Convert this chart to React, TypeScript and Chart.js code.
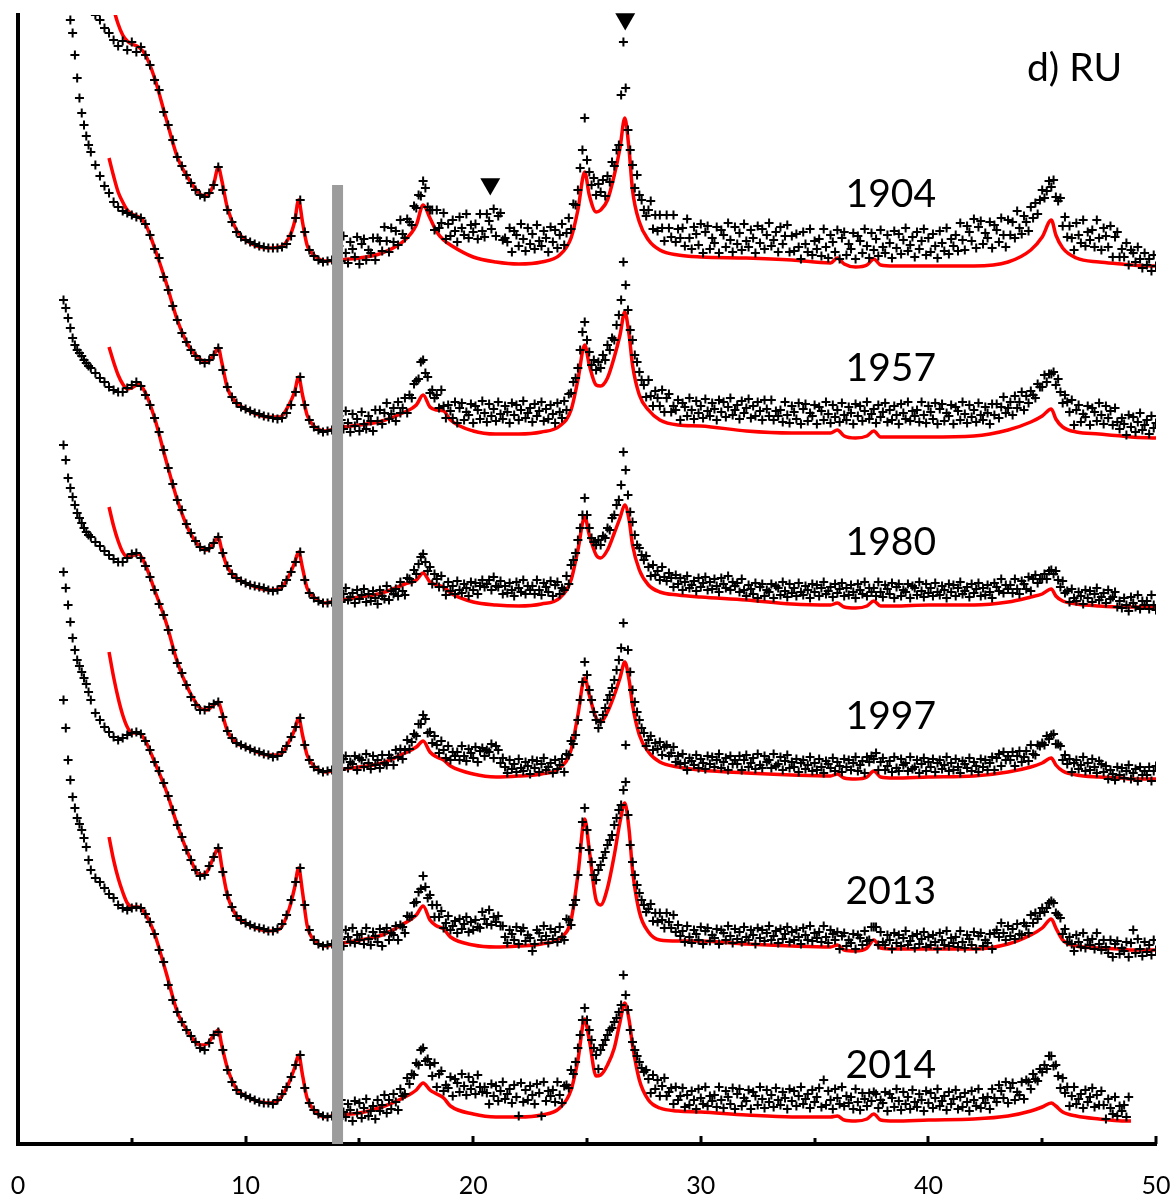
import React, { useEffect, useRef } from 'react';
import { Chart, registerables } from 'chart.js';

Chart.register(...registerables);

// ---------- measured patterns: main 2-theta grid ----------
const BLACK_X = [
  2, 2.2, 2.4, 2.6, 2.8, 3, 3.2, 3.4, 3.6, 3.8,
  4, 4.2, 4.4, 4.6, 4.8, 5, 5.2, 5.4, 5.6, 5.8,
  6, 6.2, 6.4, 6.6, 6.8, 7, 7.2, 7.4, 7.6, 7.8,
  8, 8.2, 8.4, 8.6, 8.8, 9, 9.2, 9.4, 9.6, 9.8,
  10, 10.2, 10.4, 10.6, 10.8, 11, 11.2, 11.4, 11.6, 11.8,
  12, 12.2, 12.4, 12.6, 12.8, 13, 13.2, 13.4, 13.6, 13.8,
  14,
  14.2, 14.4, 14.6, 14.8, 15, 15.2, 15.4, 15.6, 15.8, 16,
  16.2, 16.4, 16.6, 16.8, 17, 17.2, 17.4, 17.6, 17.8, 18,
  18.2, 18.4, 18.6, 18.8, 19, 19.2, 19.4, 19.6, 19.8, 20,
  20.2, 20.4, 20.6, 20.8, 21, 21.2, 21.4, 21.6, 21.8, 22,
  22.2, 22.4, 22.6, 22.8, 23, 23.2, 23.4, 23.6, 23.8, 24,
  24.2, 24.4,
  24.5, 24.6, 24.7, 24.8, 24.9, 25, 25.1, 25.2, 25.3, 25.4,
  25.5, 25.6, 25.7, 25.8, 25.9, 26, 26.1, 26.2, 26.3, 26.4,
  26.5, 26.6, 26.7, 26.8, 26.9, 27, 27.1, 27.2, 27.3, 27.4,
  27.5,
  27.6, 27.8, 28, 28.2, 28.4, 28.6, 28.8, 29, 29.2, 29.4,
  29.6, 29.8, 30, 30.2, 30.4, 30.6, 30.8, 31, 31.2, 31.4,
  31.6, 31.8, 32, 32.2, 32.4, 32.6, 32.8, 33, 33.2, 33.4,
  33.6, 33.8, 34, 34.2, 34.4, 34.6, 34.8, 35, 35.2, 35.4,
  35.6, 35.8, 36, 36.2, 36.4, 36.6, 36.8, 37, 37.2, 37.4,
  37.6, 37.8, 38, 38.2, 38.4, 38.6, 38.8, 39, 39.2, 39.4,
  39.6, 39.8, 40, 40.2, 40.4, 40.6, 40.8, 41, 41.2, 41.4,
  41.6, 41.8, 42, 42.2, 42.4, 42.6, 42.8, 43, 43.2, 43.4,
  43.6, 43.8, 44, 44.2, 44.4, 44.6, 44.8, 45, 45.2, 45.4,
  45.6, 45.8, 46, 46.2, 46.4, 46.6, 46.8, 47, 47.2, 47.4,
  47.6, 47.8, 48, 48.2, 48.4, 48.6, 48.8, 49, 49.2, 49.4,
  49.6, 49.8, 50,
];

// secondary (interleaved) 2-theta grid
const BLACK_X2 = [
  2.1, 2.3, 2.5, 2.7, 2.9, 3.1,
  14.1, 14.3, 14.5, 14.7, 14.9, 15.1, 15.3, 15.5, 15.7, 15.9,
  16.1, 16.3, 16.5, 16.7, 16.9, 17.1, 17.3, 17.5, 17.7, 17.9,
  18.1, 18.3, 18.5, 18.7, 18.9, 19.1, 19.3, 19.5, 19.7, 19.9,
  20.1, 20.3, 20.5, 20.7, 20.9, 21.1, 21.3, 21.5, 21.7, 21.9,
  22.1, 22.3, 22.5, 22.7, 22.9, 23.1, 23.3, 23.5, 23.7, 23.9,
  24.1, 24.3,
  27.7, 27.9, 28.1, 28.3, 28.5, 28.7, 28.9, 29.1, 29.3, 29.5,
  29.7, 29.9, 30.1, 30.3, 30.5, 30.7, 30.9, 31.1, 31.3, 31.5,
  31.7, 31.9, 32.1, 32.3, 32.5, 32.7, 32.9, 33.1, 33.3, 33.5,
  33.7, 33.9, 34.1, 34.3, 34.5, 34.7, 34.9, 35.1, 35.3, 35.5,
  35.7, 35.9, 36.1, 36.3, 36.5, 36.7, 36.9, 37.1, 37.3, 37.5,
  37.7, 37.9, 38.1, 38.3, 38.5, 38.7, 38.9, 39.1, 39.3, 39.5,
  39.7, 39.9, 40.1, 40.3, 40.5, 40.7, 40.9, 41.1, 41.3, 41.5,
  41.7, 41.9, 42.1, 42.3, 42.5, 42.7, 42.9, 43.1, 43.3, 43.5,
  43.7, 43.9, 44.1, 44.3, 44.5, 44.7, 44.9, 45.1, 45.3, 45.5,
  45.7, 45.9, 46.1, 46.3, 46.5, 46.7, 46.9, 47.1, 47.3, 47.5,
  47.7, 47.9, 48.1, 48.3, 48.5, 48.7, 48.9, 49.1, 49.3, 49.5,
  49.7, 49.9,
];

// measured intensities (offset-stacked) on BLACK_X
const BLACK_1904 = [
  null, null, null, null, null, null, null,
  1129, 1124, 1116, 1111, 1104, 1098, 1103, 1094, 1102, 1092,
  1097, 1089, 1079, 1064, 1054, 1032, 1019, 1004, 987, 978,
  969, 961, 954, 949, 947, 951, 959, 977, 954, 934,
  922, 912, 907, 904, 902, 900, 898, 897, 896, 896,
  896, 897, 900, 908, 926, 944, 912, 894, 888, 884,
  882, 883, 884, 886,
  883, 891, 902, 887, 880, 905, 894, 906, 906, 893,
  903, 916, 913, 924, 906, 922, 938, 949, 963, 937,
  934, 934, 921, 905, 908, 913, 927, 909, 906, 912,
  905, 913, 930, 915, 908, 931, 906, 916, 913, 898,
  905, 916, 910, 919, 898, 906, 917, 914, 909, 899,
  926, 940,
  939, 954, 976, 994, 1026, 984, 972, 959, 966, 949,
  960, 952, 964, 948, 968, 962, 982, 978, 994, 999,
  1049, 1102, 1056, 1014, 994, 979, 956, 969, 949, 944,
  934,
  928, 943, 929, 929, 903, 916, 929, 915, 916, 925,
  895, 910, 920, 912, 895, 901, 891, 909, 921, 892,
  900, 894, 903, 914, 891, 901, 895, 921, 904, 892,
  900, 919, 908, 910, 885, 900, 915, 903, 905, 915,
  886, 902, 914, 906, 889, 895, 885, 903, 915, 886,
  894, 888, 897, 909, 886, 896, 890, 916, 899, 887,
  895, 915, 906, 910, 886, 901, 916, 905, 909, 921,
  894, 912, 925, 917, 900, 906, 896, 914, 926, 897,
  909, 906, 916, 928, 913, 926, 930, 954, 953, 957,
  947, 946, 927, 918, 894, 909, 924, 912, 914, 924,
  894, 908, 918, 907, 887, 887, 879, 891, 897, 876,
  879, 873, 878,
];

const BLACK_1957 = [
  null, null,
  1111, 1066, 1031, 1008, 992, 979, 968, 958, 951, 942,
  937, 933, 931, 929, 927, 926, 920, 909, 895, 886,
  867, 854, 838, 824, 811, 802, 794, 788, 784, 781,
  784, 789, 796, 774, 757, 747, 741, 737, 735, 733,
  731, 730, 728, 727, 726, 725, 726, 731, 739, 752,
  767, 739, 724, 717, 714, 712, 713, 714, 716,
  724, 733, 712, 718, 713, 720, 728, 713, 723, 720,
  741, 730, 723, 731, 746, 749, 760, 765, 784, 767,
  754, 749, 754, 726, 733, 742, 736, 724, 729, 721,
  734, 743, 722, 728, 723, 730, 738, 721, 729, 724,
  743, 731, 722, 728, 742, 735, 739, 721, 732, 743,
  750, 762,
  766, 776, 794, 812, 822, 804, 792, 779, 784, 774,
  782, 776, 789, 784, 799, 794, 806, 804, 819, 829,
  844, 882, 859, 834, 814, 804, 789, 782, 772, 764,
  759,
  747, 748, 753, 738, 732, 750, 738, 744, 741, 728,
  734, 743, 738, 745, 728, 735, 744, 742, 737, 729,
  739, 743, 736, 726, 728, 733, 744, 728, 724, 728,
  722, 729, 738, 725, 720, 740, 731, 739, 737, 724,
  730, 739, 734, 741, 724, 731, 740, 738, 733, 725,
  735, 739, 732, 722, 724, 729, 740, 725, 723, 728,
  722, 729, 738, 725, 720, 740, 731, 739, 737, 724,
  730, 739, 734, 741, 724, 731, 740, 740, 737, 731,
  742, 748, 742, 734, 741, 749, 760, 757, 762, 770,
  759, 752, 749, 732, 719, 739, 730, 738, 736, 723,
  729, 738, 733, 736, 715, 720, 729, 727, 722, 714,
  724, 728, 721,
];

const BLACK_1980 = [
  844, 826, 806, 794, 788, 781, 776, 771, 766, 762,
  757, 754, 752, 752, 756, 759, 762, 758, 749, 739,
  726, 712, 694, 676, 660, 644, 634, 620, 611, 603,
  597, 594, 596, 601, 607, 591, 578, 570, 566, 563,
  561, 559, 558, 557, 556, 554, 553, 554, 558, 564,
  572, 582, 592, 564, 551, 546, 543, 541, 541, 542,
  544,
  542, 556, 547, 541, 545, 555, 550, 553, 540, 548,
  558, 553, 555, 562, 549, 565, 574, 580, 590, 573,
  560, 565, 568, 549, 553, 550, 554, 560, 548, 554,
  550, 564, 560, 554, 558, 563, 558, 561, 548, 556,
  564, 558, 558, 564, 549, 557, 563, 559, 550, 554,
  560, 584,
  591, 604, 616, 629, 646, 629, 616, 606, 602, 599,
  604, 599, 608, 606, 616, 614, 626, 629, 639, 644,
  659, 692, 674, 649, 632, 622, 609, 599, 596, 589,
  584,
  588, 568, 569, 564, 567, 571, 557, 560, 554, 568,
  559, 553, 557, 567, 562, 565, 552, 560, 568, 562,
  561, 565, 548, 555, 561, 557, 548, 552, 546, 556,
  562, 547, 551, 548, 552, 558, 546, 552, 548, 562,
  553, 547, 551, 561, 556, 559, 546, 554, 562, 556,
  556, 562, 547, 555, 561, 557, 548, 552, 546, 556,
  562, 547, 551, 548, 552, 558, 546, 552, 548, 562,
  553, 547, 551, 561, 556, 559, 546, 557, 565, 559,
  559, 565, 550, 560, 567, 565, 561, 565, 565, 574,
  573, 557, 551, 542, 546, 552, 540, 546, 542, 556,
  547, 541, 545, 552, 543, 546, 533, 541, 549, 543,
  543, 549, 534,
];

const BLACK_1997 = [
  699, 666, 647, 631, 621, 612, 607, 602, 598, 593,
  589, 585, 582, 582, 586, 590, 591, 586, 578, 567,
  554, 540, 529, 514, 494, 481, 471, 459, 447, 439,
  434, 434, 437, 440, 442, 427, 413, 406, 401, 399,
  397, 395, 393, 392, 390, 389, 387, 388, 392, 398,
  407, 417, 426, 399, 384, 377, 374, 372, 373, 374,
  377,
  374, 388, 382, 388, 386, 377, 381, 388, 384, 389,
  379, 386, 394, 395, 394, 395, 410, 420, 429, 411,
  401, 399, 403, 386, 384, 388, 384, 388, 395, 386,
  382, 396, 394, 400, 398, 381, 377, 384, 380, 385,
  373, 378, 384, 383, 380, 374, 381, 384, 379, 372,
  389, 400,
  409, 424, 444, 462, 482, 469, 454, 444, 432, 424,
  416, 422, 429, 436, 444, 449, 456, 464, 474, 484,
  496, 521, 399, 494, 472, 454, 442, 432, 424, 416,
  411,
  398, 408, 401, 402, 397, 388, 397, 388, 390, 374,
  383, 389, 385, 375, 380, 377, 390, 382, 374, 380,
  380, 374, 389, 381, 375, 379, 388, 384, 390, 380,
  374, 389, 382, 385, 381, 375, 387, 381, 385, 371,
  380, 386, 382, 372, 377, 374, 387, 379, 371, 382,
  385, 374, 386, 378, 372, 376, 385, 381, 387, 377,
  371, 386, 382, 385, 381, 375, 387, 381, 385, 371,
  380, 386, 382, 372, 377, 374, 387, 386, 378, 384,
  384, 378, 393, 387, 383, 390, 399, 401, 408, 409,
  400, 398, 389, 385, 381, 375, 387, 381, 385, 371,
  380, 378, 374, 364, 369, 366, 379, 371, 363, 369,
  369, 363, 378,
];

const BLACK_2013 = [
  572, 539, 506, 484, 472, 460, 444, 431, 424, 417,
  412, 407, 404, 406, 409, 411, 412, 410, 403, 394,
  382, 373, 361, 348, 334, 319, 307, 294, 284, 274,
  268, 269, 278, 287, 296, 272, 249, 237, 228, 224,
  221, 219, 217, 216, 215, 213, 213, 215, 220, 229,
  244, 262, 276, 239, 214, 204, 200, 198, 199, 200,
  202,
  205, 214, 202, 201, 204, 200, 205, 212, 202, 198,
  216, 211, 218, 219, 211, 227, 241, 252, 268, 246,
  239, 239, 233, 221, 214, 223, 225, 220, 212, 214,
  217, 232, 220, 219, 222, 218, 207, 214, 204, 200,
  216, 209, 193, 214, 204, 208, 215, 212, 217, 204,
  224, 239,
  244, 269, 296, 322, 336, 314, 294, 282, 269, 264,
  274, 279, 286, 292, 299, 304, 309, 319, 326, 334,
  339, 354, 362, 329, 299, 282, 269, 259, 251, 244,
  239,
  232, 240, 231, 231, 216, 222, 229, 219, 213, 218,
  201, 210, 217, 213, 203, 206, 200, 211, 218, 201,
  205, 202, 207, 214, 200, 206, 203, 218, 208, 201,
  205, 217, 212, 214, 200, 209, 218, 211, 212, 218,
  201, 210, 212, 208, 198, 201, 195, 206, 213, 204,
  217, 199, 202, 209, 195, 201, 198, 213, 203, 196,
  200, 212, 207, 209, 195, 204, 213, 206, 207, 213,
  196, 205, 212, 208, 198, 201, 195, 214, 221, 204,
  208, 205, 210, 221, 211, 221, 225, 236, 236, 243,
  231, 226, 215, 207, 193, 202, 211, 204, 205, 211,
  194, 197, 204, 200, 190, 193, 187, 214, 205, 188,
  192, 189, 194,
];

const BLACK_2014 = [
  444, 384, 347, 326, 314, 297, 274, 266, 262, 256,
  250, 246, 239, 236, 234, 236, 237, 236, 230, 222,
  210, 194, 182, 159, 144, 132, 122, 114, 108, 102,
  96, 94, 101, 109, 112, 94, 74, 62, 54, 50,
  48, 46, 44, 42, 41, 41, 40, 44, 50, 57,
  67, 79, 89, 56, 41, 34, 30, 28, 27, 28,
  31,
  44, 27, 34, 43, 41, 36, 28, 38, 44, 39,
  31, 35, 42, 55, 50, 60, 69, 79, 96, 85,
  68, 57, 73, 59, 67, 65, 52, 58, 67, 62,
  69, 52, 51, 60, 58, 53, 45, 55, 59, 28,
  42, 44, 49, 60, 28, 43, 48, 42, 49, 58,
  56, 70,
  82, 96, 109, 124, 136, 124, 114, 104, 96, 89,
  75, 94, 99, 104, 109, 114, 116, 122, 126, 132,
  139, 169, 149, 134, 114, 102, 94, 88, 82, 76,
  72,
  74, 51, 55, 48, 66, 52, 40, 44, 56, 49,
  53, 35, 46, 57, 48, 49, 57, 36, 47, 56,
  50, 38, 43, 35, 48, 57, 36, 42, 37, 44,
  52, 35, 43, 38, 57, 45, 36, 42, 56, 64,
  53, 35, 46, 57, 48, 47, 55, 34, 45, 51,
  52, 36, 41, 33, 46, 55, 34, 40, 35, 42,
  50, 33, 41, 36, 55, 43, 34, 40, 54, 47,
  51, 33, 44, 55, 46, 47, 55, 42, 53, 62,
  56, 44, 49, 45, 62, 70, 63, 72, 75, 88,
  79, 56, 51, 38, 57, 45, 36, 42, 56, 49,
  53, 25, 36, 47, 38, 39, 47, null, null, null,
  null, null, null,
];

// measured intensities on BLACK_X2
const BLACK2_1904 = [
  null, null, null, null, null, null,
  898, 908, 881, 895, 907, 900, 884, 891, 884, 903,
  917, 892, 902, 899, 910, 925, 919, 936, 948, 956,
  934, 914, 916, 931, 920, 924, 902, 916, 930, 919,
  920, 930, 907, 923, 935, 928, 904, 902, 892, 909,
  920, 893, 900, 895, 903, 913, 892, 902, 896, 920,
  911, 915,
  934, 915, 913, 916, 929, 907, 902, 906, 898, 906,
  917, 899, 891, 918, 906, 917, 914, 897, 904, 917,
  911, 920, 897, 906, 918, 915, 909, 898, 912, 917,
  908, 892, 893, 897, 912, 892, 889, 895, 888, 897,
  909, 892, 885, 912, 900, 911, 908, 891, 898, 911,
  905, 914, 891, 901, 913, 910, 904, 893, 907, 912,
  903, 889, 892, 898, 913, 893, 890, 898, 893, 904,
  918, 903, 896, 923, 911, 922, 919, 902, 909, 924,
  922, 933, 910, 922, 937, 941, 944, 946, 963, 964,
  943, 918, 907, 906, 921, 901, 898, 904, 897, 906,
  916, 897, 887, 912, 895, 901, 894, 882, 885, 891,
  885, 889,
];

const BLACK2_1957 = [
  null, 1124, 1089, 1046, 1019, 999,
  728, 715, 721, 730, 725, 732, 715, 723, 734, 734,
  731, 725, 736, 742, 736, 731, 746, 763, 782, 771,
  751, 746, 736, 738, 739, 726, 721, 741, 732, 740,
  738, 725, 731, 740, 735, 742, 725, 732, 741, 739,
  734, 726, 736, 740, 733, 723, 725, 730, 741, 726,
  734, 751,
  764, 738, 746, 754, 746, 732, 734, 724, 737, 746,
  725, 731, 726, 733, 741, 724, 732, 727, 746, 734,
  725, 731, 745, 738, 742, 724, 735, 744, 733, 734,
  742, 721, 732, 741, 735, 723, 728, 720, 733, 742,
  721, 727, 722, 729, 737, 720, 728, 723, 742, 730,
  721, 727, 741, 734, 738, 720, 731, 742, 733, 734,
  742, 721, 732, 741, 735, 723, 728, 720, 733, 742,
  721, 727, 722, 729, 737, 720, 729, 726, 747, 736,
  729, 736, 752, 748, 753, 746, 757, 769, 770, 772,
  765, 741, 742, 744, 734, 722, 727, 719, 732, 741,
  720, 726, 719, 722, 726, 709, 717, 712, 731, 719,
  710, 716,
];

const BLACK2_1980 = [
  836, 816, 799, 791, 784, 778,
  553, 550, 544, 551, 554, 549, 542, 543, 546, 554,
  545, 544, 550, 548, 553, 566, 562, 570, 587, 582,
  577, 570, 557, 557, 562, 558, 563, 551, 556, 562,
  561, 558, 557, 564, 567, 557, 550, 551, 554, 562,
  552, 550, 554, 550, 554, 561, 552, 548, 562, 556,
  568, 579,
  577, 579, 573, 577, 563, 566, 569, 566, 562, 556,
  563, 566, 561, 554, 555, 558, 566, 556, 554, 558,
  552, 554, 559, 550, 546, 560, 554, 560, 558, 549,
  553, 560, 556, 561, 549, 554, 560, 559, 556, 550,
  557, 560, 555, 548, 549, 552, 560, 550, 548, 552,
  548, 552, 559, 550, 546, 560, 554, 560, 558, 549,
  553, 560, 556, 561, 549, 554, 560, 559, 556, 550,
  557, 560, 555, 548, 549, 552, 561, 553, 551, 555,
  551, 555, 563, 555, 553, 569, 565, 570, 573, 570,
  564, 563, 553, 555, 543, 548, 554, 553, 550, 544,
  551, 554, 547, 537, 536, 539, 547, 537, 535, 539,
  535, 539,
];

const BLACK2_1997 = [
  684, 656, 639, 626, 616, 609,
  389, 385, 376, 380, 374, 384, 390, 375, 379, 376,
  381, 389, 379, 387, 385, 404, 402, 408, 420, 425,
  412, 408, 391, 394, 398, 392, 392, 398, 383, 391,
  397, 393, 388, 392, 386, 394, 386, 371, 375, 372,
  376, 382, 370, 376, 372, 386, 377, 371, 375, 385,
  390, 403,
  404, 394, 395, 389, 399, 391, 382, 380, 381, 386,
  379, 376, 381, 388, 387, 384, 376, 386, 388, 384,
  388, 384, 377, 386, 390, 376, 382, 376, 378, 387,
  383, 376, 377, 372, 384, 379, 373, 374, 377, 383,
  376, 373, 378, 385, 384, 381, 373, 383, 387, 388,
  391, 382, 374, 383, 387, 373, 379, 373, 375, 384,
  380, 373, 377, 372, 384, 379, 373, 374, 377, 383,
  376, 373, 378, 385, 384, 381, 374, 390, 392, 388,
  392, 388, 382, 393, 399, 389, 398, 399, 405, 410,
  400, 384, 380, 372, 384, 379, 373, 374, 377, 383,
  372, 365, 370, 377, 376, 373, 365, 375, 377, 373,
  377, 373,
];

const BLACK2_2013 = [
  556, 522, 494, 478, 466, 452,
  212, 198, 207, 216, 209, 210, 216, 199, 208, 215,
  212, 204, 209, 204, 217, 228, 228, 242, 255, 257,
  249, 227, 227, 216, 228, 218, 211, 215, 227, 222,
  224, 216, 225, 234, 227, 228, 218, 201, 210, 217,
  213, 203, 206, 200, 211, 218, 201, 205, 202, 207,
  225, 219,
  235, 223, 222, 224, 231, 216, 212, 208, 202, 207,
  214, 204, 200, 216, 209, 215, 214, 204, 208, 215,
  212, 217, 204, 209, 216, 214, 211, 204, 213, 215,
  210, 202, 204, 207, 216, 204, 203, 206, 202, 207,
  214, 204, 195, 211, 204, 210, 209, 199, 203, 217,
  217, 212, 199, 204, 211, 209, 206, 199, 208, 210,
  205, 197, 199, 202, 211, 199, 198, 201, 197, 202,
  209, 199, 195, 211, 204, 210, 211, 207, 211, 218,
  215, 220, 209, 218, 229, 231, 231, 232, 241, 241,
  229, 210, 202, 200, 209, 197, 196, 199, 195, 200,
  204, 191, 187, 203, 196, 202, 201, 191, 195, 202,
  199, 204,
];

const BLACK2_2014 = [
  416, 364, 336, 320, 306, 284,
  25, 32, 40, 23, 31, 26, 45, 33, 25, 33,
  49, 44, 50, 34, 48, 66, 70, 81, 94, 83,
  79, 81, 70, 53, 56, 48, 61, 70, 49, 55,
  50, 57, 57, 40, 48, 43, 62, 50, 41, 47,
  61, 54, 58, 40, 51, 62, 53, 54, 62, 41,
  59, 74,
  65, 69, 64, 58, 48, 56, 57, 48, 37, 39,
  44, 55, 40, 38, 43, 37, 44, 53, 40, 35,
  55, 46, 54, 52, 39, 45, 54, 49, 56, 39,
  46, 55, 53, 48, 40, 50, 54, 47, 37, 39,
  44, 55, 40, 38, 41, 35, 42, 51, 38, 43,
  50, 44, 52, 50, 37, 43, 52, 47, 54, 37,
  44, 53, 51, 46, 38, 48, 52, 45, 35, 37,
  42, 53, 38, 36, 41, 35, 46, 59, 46, 41,
  61, 52, 62, 64, 55, 65, 75, 79, 88, 78,
  68, 66, 57, 48, 40, 50, 54, 47, 37, 39,
  39, 45, 30, 28, 33, 27, null, null, null, null,
  null, null,
];

// ---------- fitted (red) curves ----------
const RED_X = [
  4, 4.2, 4.4, 4.6, 4.8, 5, 5.3, 5.6, 6, 6.5,
  7, 7.5, 8, 8.3, 8.6, 8.8, 8.95, 9.2, 9.6, 10,
  11, 11.5, 11.9, 12.15, 12.33, 12.5, 12.7, 13, 13.5, 14,
  15, 16, 17, 17.5, 17.8, 18.1, 18.4, 18.7, 19, 20,
  21, 22, 23, 23.8, 24.3, 24.6, 24.9, 25.1, 25.4, 25.6,
  25.9, 26.2, 26.45, 26.66, 26.85, 27, 27.3, 27.7, 28.2, 29,
  30, 32, 34, 35.7, 36, 36.3, 36.8, 37.3, 37.6, 37.9,
  38.5, 40, 42, 43.5, 44.5, 45, 45.4, 45.6, 45.9, 46.5,
  47.5, 48.5, 48.9, 50,
];

const RED_1904 = [
  1164, 1136, 1120, 1109, 1103, 1100, 1097, 1089, 1066, 1026,
  987, 965, 950, 948, 960, 977, 964, 936, 914, 904,
  896, 897, 906, 922, 944, 922, 899, 889, 883, 884,
  886, 891, 904, 919, 939, 926, 912, 904, 899, 887,
  882, 880, 882, 889, 906, 934, 972, 949, 932, 934,
  944, 969, 996, 1026, 994, 954, 922, 904, 894, 889,
  887, 886, 884, 881, 886, 880, 877, 879, 885, 879,
  878, 878, 878, 882, 894, 907, 924, 909, 896, 886,
  882, 880, 879, 878,
];

const RED_1957 = [
  986, 968, 952, 942, 934, 930, 927, 920, 896, 862,
  824, 798, 785, 782, 789, 796, 782, 756, 741, 735,
  727, 727, 739, 752, 767, 749, 729, 718, 713, 716,
  719, 723, 732, 739, 749, 737, 734, 733, 724, 713,
  710, 710, 712, 718, 734, 764, 799, 779, 759, 758,
  766, 787, 809, 832, 809, 779, 749, 734, 724, 719,
  718, 713, 711, 711, 714, 708, 706, 708, 713, 707,
  707, 707, 708, 714, 722, 728, 735, 725, 717, 712,
  710, 708, 707, 706,
];

const RED_1980 = [
  797, 782, 769, 760, 755, 756, 760, 751, 726, 684,
  644, 614, 597, 594, 601, 607, 594, 577, 566, 561,
  554, 555, 568, 581, 592, 576, 556, 547, 541, 543,
  547, 551, 560, 564, 571, 562, 559, 557, 551, 542,
  539, 538, 540, 546, 564, 594, 627, 609, 589, 586,
  594, 611, 626, 639, 624, 599, 574, 559, 552, 549,
  547, 544, 540, 539, 541, 537, 536, 538, 543, 538,
  538, 539, 539, 542, 547, 550, 555, 548, 543, 540,
  538, 537, 537, 537,
];

const RED_1997 = [
  637, 618, 603, 592, 587, 588, 590, 579, 554, 522,
  482, 454, 436, 434, 439, 442, 432, 413, 401, 397,
  389, 389, 402, 414, 426, 409, 389, 378, 372, 374,
  377, 381, 391, 397, 403, 392, 387, 384, 378, 370,
  367, 368, 370, 376, 394, 429, 466, 449, 426, 422,
  432, 449, 466, 482, 464, 439, 409, 392, 382, 377,
  374, 371, 369, 368, 370, 366, 365, 367, 373, 367,
  366, 367, 368, 372, 377, 381, 386, 379, 373, 369,
  367, 366, 365, 365,
];

const RED_2013 = [
  492, 467, 446, 429, 417, 411, 411, 403, 382, 354,
  319, 289, 269, 272, 287, 296, 278, 249, 228, 221,
  213, 215, 234, 256, 276, 252, 219, 204, 198, 200,
  204, 209, 221, 229, 238, 224, 218, 215, 207, 199,
  197, 198, 200, 206, 224, 269, 325, 294, 244, 239,
  256, 289, 322, 341, 314, 274, 232, 212, 204, 203,
  203, 200, 198, 197, 199, 194, 193, 196, 204, 196,
  195, 195, 195, 200, 209, 216, 225, 216, 204, 198,
  196, 195, 194, 194,
];

const RED_2014 = [
  307, 284, 266, 252, 241, 237, 237, 230, 210, 172,
  132, 111, 99, 100, 109, 114, 99, 76, 55, 48,
  41, 45, 61, 76, 89, 69, 46, 34, 27, 29,
  31, 37, 47, 54, 61, 54, 50, 46, 38, 30,
  27, 27, 29, 36, 54, 84, 125, 104, 68, 69,
  79, 96, 122, 141, 124, 99, 64, 44, 36, 33,
  32, 29, 27, 27, 28, 24, 23, 25, 30, 24,
  23, 24, 25, 28, 33, 37, 41, 38, 32, 28,
  25, 23, 23, null,
];

const YEARS = ['1904', '1957', '1980', '1997', '2013', '2014'];
const TITLE = 'd) RU';
const X_TICK_LABELS = [0, 10, 20, 30, 40, 50];
const TICK_MARKS = [0, 5, 10, 15, 20, 25, 30, 35, 40, 45, 50];

// reference markers (triangles) and the grey divider
const MARKER_X = [20.75, 26.68];
const MARKER_Y = [960, 1125];
const BAR_X = 14.04;
const BAR_Y = [0, 959];

// annotation placement (data coordinates, text baseline)
const LABEL_X = [38.35, 38.35, 38.35, 38.35, 38.35, 38.35];
const LABEL_Y = [937, 763, 589, 415, 240, 66];
const TITLE_POS = [46.42, 1063];

const FONT = 'Lato, "Open Sans", sans-serif';

function toPoints(xs: number[], ys: (number | null)[]) {
  const out: { x: number; y: number }[] = [];
  const n = Math.min(xs.length, ys.length);
  for (let i = 0; i < n; i++) {
    const v = ys[i];
    if (v !== null && v !== undefined) out.push({ x: xs[i], y: v });
  }
  return out;
}

const annotationPlugin = {
  id: 'annotations',
  afterDatasetsDraw(chart: any) {
    const { ctx, chartArea } = chart;
    const xs = chart.scales.x;
    const ys = chart.scales.y;
    ctx.save();
    ctx.strokeStyle = '#000';
    ctx.lineWidth = 3;
    TICK_MARKS.forEach((v) => {
      const px = Math.round(xs.getPixelForValue(v));
      const len = v % 10 === 0 ? 8 : 6;
      ctx.beginPath();
      ctx.moveTo(px, chartArea.bottom);
      ctx.lineTo(px, chartArea.bottom - len);
      ctx.stroke();
    });
    ctx.fillStyle = '#000';
    ctx.font = `25px ${FONT}`;
    ctx.textAlign = 'center';
    ctx.textBaseline = 'alphabetic';
    X_TICK_LABELS.forEach((v) => {
      ctx.fillText(String(v), xs.getPixelForValue(v), chartArea.bottom + 50);
    });
    ctx.font = `39px ${FONT}`;
    YEARS.forEach((t, i) => {
      ctx.fillText(t, xs.getPixelForValue(LABEL_X[i]), ys.getPixelForValue(LABEL_Y[i]));
    });
    ctx.fillText(TITLE, xs.getPixelForValue(TITLE_POS[0]), ys.getPixelForValue(TITLE_POS[1]));
    ctx.restore();
  },
};

export default function App() {
  const canvasRef = useRef<HTMLCanvasElement | null>(null);

  useEffect(() => {
    const canvas = canvasRef.current;
    if (!canvas) return;

    const blackSeries = [BLACK_1904, BLACK_1957, BLACK_1980, BLACK_1997, BLACK_2013, BLACK_2014];
    const blackSeries2 = [BLACK2_1904, BLACK2_1957, BLACK2_1980, BLACK2_1997, BLACK2_2013, BLACK2_2014];
    const redSeries = [RED_1904, RED_1957, RED_1980, RED_1997, RED_2013, RED_2014];

    const datasets: any[] = [];
    datasets.push({
      label: 'divider',
      data: [
        { x: BAR_X, y: BAR_Y[0] },
        { x: BAR_X, y: BAR_Y[1] },
      ],
      showLine: true,
      borderColor: '#9c9c9c',
      borderWidth: 11,
      borderCapStyle: 'butt',
      pointRadius: 0,
    });
    datasets.push({
      label: 'markers',
      data: MARKER_X.map((x, i) => ({ x, y: MARKER_Y[i] })),
      showLine: false,
      pointStyle: 'triangle',
      pointRotation: 180,
      pointRadius: 11.5,
      pointBackgroundColor: '#000',
      pointBorderColor: '#000',
      pointBorderWidth: 0,
      clip: false,
    });
    blackSeries.forEach((ys, k) => {
      datasets.push({
        label: YEARS[k] + ' data',
        data: toPoints(BLACK_X, ys).concat(toPoints(BLACK_X2, blackSeries2[k])),
        showLine: false,
        pointStyle: 'cross',
        pointRadius: 4.5,
        pointBorderWidth: 2,
        pointBorderColor: '#000',
        borderColor: '#000',
        backgroundColor: '#000',
      });
    });
    redSeries.forEach((ys, k) => {
      datasets.push({
        label: YEARS[k] + ' fit',
        data: toPoints(RED_X, ys),
        showLine: true,
        borderColor: '#ff0000',
        borderWidth: 3.5,
        pointRadius: 0,
        cubicInterpolationMode: 'monotone',
      });
    });

    const chart = new Chart(canvas, {
      type: 'scatter',
      data: { datasets },
      options: {
        responsive: false,
        animation: false,
        devicePixelRatio: 1,
        events: [],
        layout: { padding: { top: 15, right: 20, left: 0, bottom: 0 } },
        plugins: {
          legend: { display: false },
          tooltip: { enabled: false },
        },
        scales: {
          x: {
            type: 'linear',
            min: 0,
            max: 50,
            grid: { display: false, drawTicks: false },
            border: { display: true, color: '#000', width: 4 },
            ticks: { display: false, stepSize: 10 },
            afterFit: (s: any) => {
              s.height = 56;
            },
          },
          y: {
            type: 'linear',
            min: 0,
            max: 1129,
            grid: { display: false, drawTicks: false },
            border: { display: true, color: '#000', width: 4 },
            ticks: { display: false },
            afterFit: (s: any) => {
              s.width = 18;
            },
          },
        },
      },
      plugins: [annotationPlugin],
    });

    return () => {
      chart.destroy();
    };
  }, []);

  return (
    <div style={{ position: 'fixed', left: 0, top: 0, width: 1176, height: 1200, background: '#fff' }}>
      <canvas ref={canvasRef} width={1176} height={1200} style={{ display: 'block' }} />
    </div>
  );
}
